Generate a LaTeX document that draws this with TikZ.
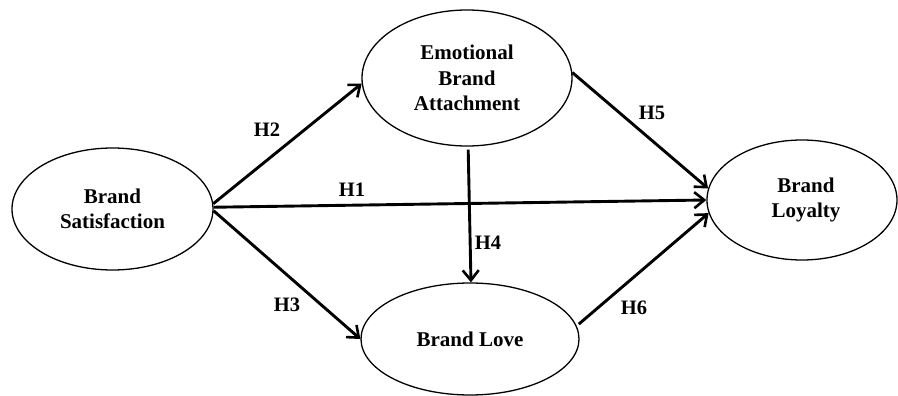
\documentclass[tikz,border=0pt]{standalone}
\usepackage{fontspec}
\setmainfont{Liberation Serif}
\usetikzlibrary{shapes.geometric,arrows.meta}
\begin{document}
\begin{tikzpicture}[x=1pt,y=-1pt,
  construct/.style={ellipse,draw,line width=1.3pt,inner sep=0pt,align=center,
    font=\fontsize{21}{25.5}\selectfont\bfseries},
  path/.style={line width=2.9pt,-{Straight Barb[length=10pt,width=16pt,line width=2.6pt]}},
  hlabel/.style={font=\fontsize{20.5}{24}\selectfont\bfseries,inner sep=0pt}]
\useasboundingbox (0,0) rectangle (898,396);
\node[construct,minimum width=201pt,minimum height=122pt] (bs) at (112.5,209) {Brand\\Satisfaction};
\node[construct,minimum width=210pt,minimum height=136pt] (eba) at (467,78) {\rule{0pt}{8pt}Emotional\\Brand\\Attachment};
\node[construct,minimum width=218pt,minimum height=112pt] (bl) at (470,339) {Brand Love};
\node[construct,minimum width=190pt,minimum height=120pt] (blo) at (802,200) {\hspace*{8pt}Brand\\\hspace*{8pt}Loyalty};
\draw[path] (bs.3) -- (eba.183);
\draw[path] (bs.1) -- (blo.180);
\draw[path] (bs.-1) -- (bl.180);
\draw[path] ([yshift=-3pt]eba.271) -- (bl.89);
\draw[path] (eba.3) -- (blo.173);
\draw[path] ([xshift=3pt]bl.8) -- (blo.188);
\node[hlabel] (h2) at (267,130) {H2};
\node[hlabel] (h1) at (352,190) {H1};
\node[hlabel] (h3) at (287,305) {H3};
\node[hlabel] (h4) at (488,243) {H4};
\node[hlabel] (h5) at (652,113) {H5};
\node[hlabel] (h6) at (634,308) {H6};
\end{tikzpicture}
\end{document}
